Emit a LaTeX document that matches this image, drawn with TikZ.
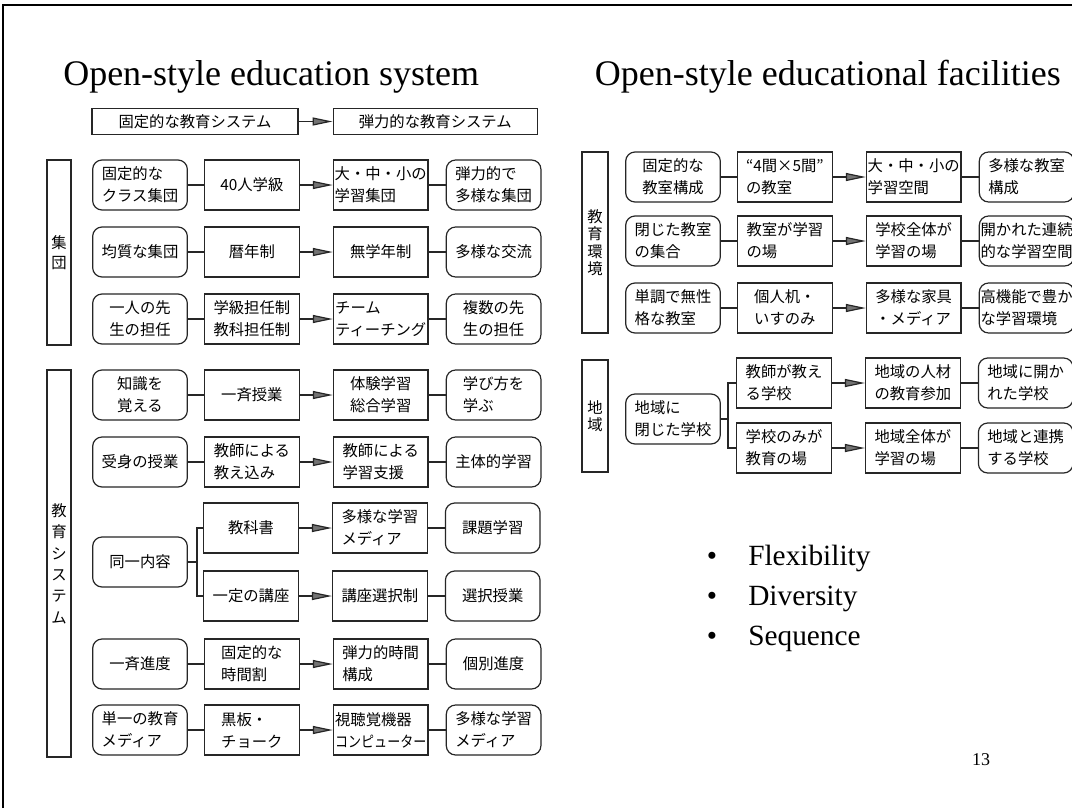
\documentclass[tikz,border=0pt]{standalone}
\usepackage{fontspec}
\setmainfont{Liberation Serif}
\newfontfamily\jpfont{Noto Sans CJK JP}
\usetikzlibrary{arrows.meta,positioning,calc}

\begin{document}
\begin{tikzpicture}[x=0.75pt, y=-0.75pt,
  aim/.style={rectangle, rounded corners=7pt, draw=black!85, line width=0.9pt,
              minimum width=71pt, minimum height=37.5pt, inner xsep=0.5pt, align=left,
              font=\jpfont\fontsize{11.5}{16.5}\selectfont},
  way/.style={aim, sharp corners},
  head/.style={way, minimum height=20pt, font=\jpfont\fontsize{11.5}{13}\selectfont},
  side/.style={rectangle, draw=black!85, line width=0.9pt, minimum width=18pt,
               inner sep=1pt, align=center, font=\jpfont\fontsize{11.5}{13}\selectfont},
  ttl/.style={anchor=base west, inner sep=0pt, font=\fontsize{27}{30}\selectfont},
  item/.style={anchor=base west, inner sep=0pt, font=\fontsize{22}{26}\selectfont},
  link/.style={draw=black!85, line width=0.9pt},
  arr/.style={link, -{Triangle[length=15pt, width=6pt, fill=black!55]}},
  node distance=12pt
]
  \fill[white] (0,0) rectangle (1072,808);
  \useasboundingbox (0,0) rectangle (1072,808);
  \draw[line width=1.2pt] (3,808) -- (3,5) -- (1072,5);

  % titles
  \node[ttl] (ttlL) at (63,85) {Open-style education system};
  \node[ttl, anchor=base east] (ttlR) at (1061,85) {Open-style educational facilities};

  % left panel
  \node[head, minimum width=154.5pt] (hd1) at (195,121.5) {固定的な教育システム};
  \node[head, minimum width=153pt] (hd2) [right=25.5pt of hd1] {弾力的な教育システム};
  \node[side, minimum height=138.75pt, font=\jpfont\fontsize{11.5}{15}\selectfont] (sgrp) at (59,252.5) {集\\団};
  \node[side, minimum height=290.25pt, font=\jpfont\fontsize{11.5}{16}\selectfont] (ssys) at (59,563.5) {教\\育\\シ\\ス\\テ\\ム};

  \node[aim] (r1a) at (140,185) {固定的な\\クラス集団};
  \node[way] (r1b) [right=of r1a]         {40人学級};
  \node[way] (r1c) [right=24.75pt of r1b] {大・中・小の\\学習集団};
  \node[aim] (r1d) [right=12.75pt of r1c] {弾力的で\\多様な集団};

  \node[aim] (r2a) at (140,252) {均質な集団};
  \node[way] (r2b) [right=of r2a]         {暦年制};
  \node[way] (r2c) [right=24.75pt of r2b] {無学年制};
  \node[aim] (r2d) [right=12.75pt of r2c] {多様な交流};

  \node[aim, align=center] (r3a) at (140,319) {一人の先\\生の担任};
  \node[way] (r3b) [right=of r3a]         {学級担任制\\教科担任制};
  \node[way] (r3c) [right=24.75pt of r3b] {チーム\\ティーチング};
  \node[aim, align=center] (r3d) [right=12.75pt of r3c] {複数の先\\生の担任};

  \node[aim, align=center] (r4a) at (140,395) {知識を\\覚える};
  \node[way] (r4b) [right=of r4a]         {一斉授業};
  \node[way] (r4c) [right=24.75pt of r4b] {体験学習\\総合学習};
  \node[aim] (r4d) [right=12.75pt of r4c] {学び方を\\学ぶ};

  \node[aim] (r5a) at (140,462) {受身の授業};
  \node[way] (r5b) [right=of r5a]         {教師による\\教え込み};
  \node[way] (r5c) [right=24.75pt of r5b] {教師による\\学習支援};
  \node[aim] (r5d) [right=12.75pt of r5c] {主体的学習};

  \node[aim] (same) at (140,562) {同一内容};
  \node[way] (r6b) at (251,528)           {教科書};
  \node[way] (r6c) [right=24.75pt of r6b] {多様な学習\\メディア};
  \node[aim] (r6d) [right=12.75pt of r6c] {課題学習};
  \node[way] (r7b) at (251,596)           {一定の講座};
  \node[way] (r7c) [right=24.75pt of r7b] {講座選択制};
  \node[aim] (r7d) [right=12.75pt of r7c] {選択授業};
  \coordinate (fkL) at ($(same.east)+(9,0)$);

  \node[aim] (r8a) at (140,664) {一斉進度};
  \node[way] (r8b) [right=of r8a]         {固定的な\\時間割};
  \node[way] (r8c) [right=24.75pt of r8b] {弾力的時間\\構成};
  \node[aim] (r8d) [right=12.75pt of r8c] {個別進度};

  \node[aim] (r9a) at (140,730) {単一の教育\\メディア};
  \node[way] (r9b) [right=of r9a]         {黒板・\\チョーク};
  \node[way] (r9c) [right=24.75pt of r9b] {視聴覚機器\\\scalebox{0.85}[1]{コンピューター}};
  \node[aim] (r9d) [right=12.75pt of r9c] {多様な学習\\メディア};

  % right panel
  \node[side, minimum width=19.5pt, minimum height=135.75pt] (senv) at (595,242.5) {教\\育\\環\\境};
  \node[side, minimum width=19.5pt, minimum height=84pt] (sreg) at (595,416) {地\\域};

  \node[aim] (f1a) at (673,177) {固定的な\\教室構成};
  \node[way] (f1b) [right=of f1a]         {“4間×5間”\\の教室};
  \node[way] (f1c) [right=24.75pt of f1b] {大・中・小の\\学習空間};
  \node[aim] (f1d) [right=12.75pt of f1c] {多様な教室\\構成};

  \node[aim] (f2a) at (673,241) {閉じた教室\\の集合};
  \node[way] (f2b) [right=of f2a]         {教室が学習\\の場};
  \node[way] (f2c) [right=24.75pt of f2b] {学校全体が\\学習の場};
  \node[aim] (f2d) [right=12.75pt of f2c] {開かれた連続\\的な学習空間};

  \node[aim] (f3a) at (673,308) {単調で無性\\格な教室};
  \node[way, align=center] (f3b) [right=of f3a] {個人机・\\いすのみ};
  \node[way] (f3c) [right=24.75pt of f3b] {多様な家具\\・メディア};
  \node[aim] (f3d) [right=12.75pt of f3c] {高機能で豊か\\な学習環境};

  \node[aim] (shut) at (673,419) {地域に\\閉じた学校};
  \node[way] (f4b) at (784,383)           {教師が教え\\る学校};
  \node[way] (f4c) [right=24.75pt of f4b] {地域の人材\\の教育参加};
  \node[aim] (f4d) [right=12.75pt of f4c] {地域に開か\\れた学校};
  \node[way] (f5b) at (784,448)           {学校のみが\\教育の場};
  \node[way] (f5c) [right=24.75pt of f5b] {地域全体が\\学習の場};
  \node[aim] (f5d) [right=12.75pt of f5c] {地域と連携\\する学校};
  \coordinate (fkR) at ($(shut.east)+(7,0)$);

  % bullets and page number
  \node[item] (it1) at (748,565) {Flexibility};
  \node[item] (it2) at (748,605) {Diversity};
  \node[item] (it3) at (748,645) {Sequence};
  \foreach \i in {1,2,3} \node[item, anchor=base] (dot\i) at ($(it\i.base west)+(-36,0)$) {•};
  \node[font=\fontsize{13.5}{16}\selectfont] (pg) at (981,760) {13};

  % connectors
  \draw[arr] (hd1) -- (hd2);
  \foreach \r in {r1,r2,r3,r4,r5,r8,r9,f1,f2,f3} {
    \draw[link] (\r a) -- (\r b);  \draw[arr] (\r b) -- (\r c);  \draw[link] (\r c) -- (\r d);
  }
  \foreach \r in {r6,r7,f4,f5} {
    \draw[arr] (\r b) -- (\r c);  \draw[link] (\r c) -- (\r d);
  }
  \draw[link] (same) -- (fkL);  \draw[link] (r6b.west) -| (fkL) |- (r7b.west);
  \draw[link] (shut) -- (fkR);  \draw[link] (f4b.west) -| (fkR) |- (f5b.west);
\end{tikzpicture}
\end{document}
